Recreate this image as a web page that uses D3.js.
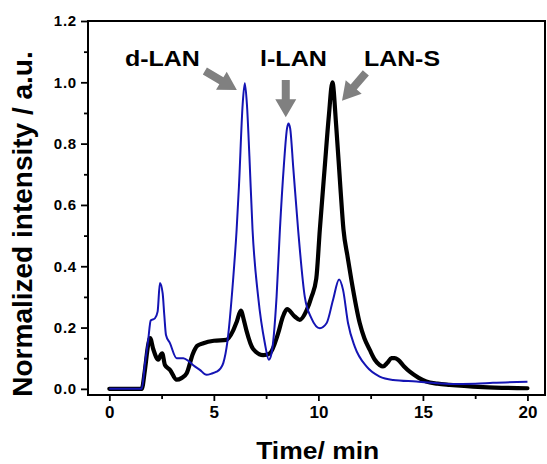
<!DOCTYPE html>
<html>
<head>
<meta charset="utf-8">
<script src="https://cdn.jsdelivr.net/npm/d3@7"></script>
<style>
  html, body { margin: 0; padding: 0; background: #fff; }
  text { font-family: Arial, "Liberation Sans", sans-serif; font-weight: bold; }
</style>
</head>
<body>
<svg id="chart" width="547" height="464"></svg>
<script>
// ---------- data ----------
const blackTime = [0, 1.55, 1.7, 1.85, 1.95, 2.1, 2.34, 2.45, 2.53, 2.66, 2.9, 3.22, 3.45, 3.7, 4.0, 4.2, 4.5, 5.0, 5.6, 5.92, 6.1, 6.29, 6.45, 6.56, 6.88, 7.36, 7.68, 8.07, 8.3, 8.5, 8.87, 9.11, 9.43, 9.67, 9.9, 10.07, 10.3, 10.5, 10.67, 10.85, 11.05, 11.2, 11.4, 11.58, 11.98, 12.2, 12.46, 12.7, 12.93, 13.09, 13.3, 13.49, 13.65, 13.81, 14.1, 14.37, 14.8, 15.16, 15.7, 16.28, 17.87, 20.0];
const blackValue = [0, 0, 0.06, 0.14, 0.166, 0.13, 0.095, 0.11, 0.116, 0.078, 0.062, 0.03, 0.035, 0.051, 0.115, 0.14, 0.149, 0.157, 0.16, 0.19, 0.22, 0.255, 0.22, 0.19, 0.13, 0.11, 0.116, 0.18, 0.235, 0.26, 0.236, 0.225, 0.255, 0.30, 0.36, 0.52, 0.72, 0.89, 1.0, 0.86, 0.66, 0.52, 0.43, 0.355, 0.214, 0.165, 0.127, 0.095, 0.078, 0.073, 0.085, 0.1, 0.1, 0.095, 0.073, 0.056, 0.036, 0.024, 0.017, 0.013, 0.006, 0.002];

const blueTime = [0, 1.55, 1.7, 1.86, 1.98, 2.18, 2.31, 2.42, 2.55, 2.63, 2.71, 2.9, 3.22, 3.54, 3.8, 4.0, 4.33, 4.65, 4.9, 5.13, 5.3, 5.45, 5.65, 5.92, 6.09, 6.2, 6.38, 6.48, 6.58, 6.7, 6.85, 7.12, 7.44, 7.63, 7.76, 8.0, 8.16, 8.35, 8.5, 8.57, 8.65, 8.8, 9.03, 9.35, 9.67, 10.07, 10.39, 10.7, 10.99, 11.18, 11.42, 11.74, 12.3, 12.93, 13.57, 14.69, 16.28, 17.5, 18.35, 20.0];
const blueValue = [0, 0, 0.08, 0.16, 0.223, 0.23, 0.252, 0.345, 0.312, 0.24, 0.176, 0.149, 0.1, 0.1, 0.09, 0.078, 0.062, 0.046, 0.05, 0.056, 0.065, 0.084, 0.155, 0.355, 0.52, 0.66, 0.93, 0.997, 0.93, 0.76, 0.52, 0.3, 0.149, 0.095, 0.116, 0.3, 0.52, 0.73, 0.85, 0.866, 0.85, 0.72, 0.52, 0.3, 0.23, 0.198, 0.214, 0.29, 0.357, 0.323, 0.214, 0.138, 0.073, 0.04, 0.029, 0.024, 0.016, 0.017, 0.02, 0.023];

const yMajorTicks = [0, 0.2, 0.4, 0.6, 0.8, 1.0, 1.2];
const yMinorTicks = [0.1, 0.3, 0.5, 0.7, 0.9, 1.1];
const xMajorTicks = [0, 5, 10, 15, 20];
const xMinorTicks = [2.5, 7.5, 12.5, 17.5];

const peakLabels = ["d-LAN", "l-LAN", "LAN-S"];
const xTitle = "Time/ min";
const yTitle = "Normalized intensity / a.u.";

// ---------- layout ----------
const svg = d3.select("#chart");
const pLeft = 88, pRight = 545, pTop = 21, pBottom = 395;
const x = d3.scaleLinear().domain([-1.02, 20.84]).range([pLeft, pRight]);
const y = d3.scaleLinear().domain([-0.02, 1.2]).range([pBottom, pTop]);

// annotation placement (data units)
const annot = [
  { label: peakLabels[0], lx: 2.54, ly: 1.052, len: 75, tail: [4.57, 1.037], tip: [6.10, 0.975] },
  { label: peakLabels[1], lx: 8.81, ly: 1.052, len: 67, tail: [8.44, 1.0075], tip: [8.44, 0.886] },
  { label: peakLabels[2], lx: 14.0, ly: 1.052, len: 76, tail: [12.27, 1.031], tip: [11.13, 0.94] }
];

// ---------- axes ----------
const fmt = d3.format(".1f");
const yAxis = svg.append("g").attr("transform", `translate(${pLeft},0)`)
  .call(d3.axisLeft(y).tickValues(yMajorTicks).tickSize(7).tickPadding(4).tickFormat(fmt));
svg.append("g").attr("transform", `translate(${pLeft},0)`)
  .call(d3.axisLeft(y).tickValues(yMinorTicks).tickSize(4).tickFormat(""));
const xAxis = svg.append("g").attr("transform", `translate(0,${pBottom})`)
  .call(d3.axisBottom(x).tickValues(xMajorTicks).tickSize(6).tickPadding(5).tickFormat(d3.format("d")));
svg.append("g").attr("transform", `translate(0,${pBottom})`)
  .call(d3.axisBottom(x).tickValues(xMinorTicks).tickSize(4).tickFormat(""));

svg.selectAll(".domain").remove();
svg.selectAll(".tick line").attr("stroke", "#000").attr("stroke-width", 1.8);
yAxis.selectAll("text").attr("font-size", 15).attr("fill", "#000").style("letter-spacing", "0.8px");
xAxis.selectAll("text").attr("font-size", 17).attr("fill", "#000");

// frame
svg.append("rect")
  .attr("x", pLeft).attr("y", pTop)
  .attr("width", pRight - pLeft).attr("height", pBottom - pTop)
  .attr("fill", "none").attr("stroke", "#000").attr("stroke-width", 2);

// ---------- lines ----------
const line = d3.line().x(d => x(d[0])).y(d => y(d[1])).curve(d3.curveMonotoneX);
const blackData = blackTime.map((t, i) => [t, blackValue[i]]);
const blueData = blueTime.map((t, i) => [t, blueValue[i]]);

svg.append("path").datum(blackData).attr("d", line)
  .attr("fill", "none").attr("stroke", "#000").attr("stroke-width", 4.2)
  .attr("stroke-linejoin", "round").attr("stroke-linecap", "round");
svg.append("path").datum(blueData).attr("d", line)
  .attr("fill", "none").attr("stroke", "#1414b4").attr("stroke-width", 2)
  .attr("stroke-linejoin", "round");

// ---------- annotations ----------
function arrowPoints(x1, y1, x2, y2) {
  const dx = x2 - x1, dy = y2 - y1, L = Math.hypot(dx, dy);
  const ux = dx / L, uy = dy / L, nx = -uy, ny = ux;
  const sw = 4, hw = 10.5, hl = 18;
  const bx = x2 - ux * hl, by = y2 - uy * hl;
  return [
    [x1 + nx * sw, y1 + ny * sw], [bx + nx * sw, by + ny * sw], [bx + nx * hw, by + ny * hw],
    [x2, y2],
    [bx - nx * hw, by - ny * hw], [bx - nx * sw, by - ny * sw], [x1 - nx * sw, y1 - ny * sw]
  ];
}
annot.forEach(a => {
  svg.append("polygon")
    .attr("points", arrowPoints(x(a.tail[0]), y(a.tail[1]), x(a.tip[0]), y(a.tip[1])).map(p => p.join(",")).join(" "))
    .attr("fill", "#808080");
  svg.append("text")
    .attr("x", x(a.lx)).attr("y", y(a.ly))
    .attr("text-anchor", "middle").attr("font-size", 22).attr("fill", "#000")
    .attr("textLength", a.len).attr("lengthAdjust", "spacingAndGlyphs")
    .text(a.label);
});

// ---------- titles ----------
svg.append("text")
  .attr("x", 317.7).attr("y", 459.3)
  .attr("text-anchor", "middle").attr("font-size", 24).attr("fill", "#000")
  .attr("textLength", 123).attr("lengthAdjust", "spacingAndGlyphs")
  .text(xTitle);
svg.append("text")
  .attr("transform", "translate(31.5,224) rotate(-90)")
  .attr("text-anchor", "middle").attr("font-size", 28).attr("fill", "#000")
  .text(yTitle);
</script>
</body>
</html>
